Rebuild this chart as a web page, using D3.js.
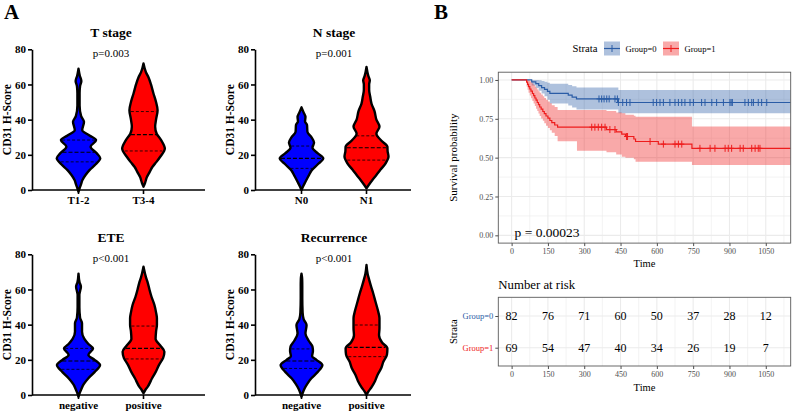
<!DOCTYPE html>
<html><head><meta charset="utf-8">
<script src="https://cdn.jsdelivr.net/npm/d3@7"></script>
<style>body{margin:0;background:#fff} svg{display:block}</style>
</head><body><svg id="c" width="794" height="416"></svg>
<script>
// ---------------- DATA ----------------
const violinTitles = ["T stage", "N stage", "ETE", "Recurrence"];
const violinPvals = ["p=0.003", "p=0.001", "p<0.001", "p<0.001"];
const violinCats = [["T1-2", "T3-4"], ["N0", "N1"], ["negative", "positive"], ["negative", "positive"]];
const scoreTicks = [0, 20, 40, 60, 80];
// density profiles: [CD31 H-score, relative half width]
const tLowDens = [[-1,0],[1,.05],[3,.11],[5.7,.18],[8.5,.32],[11.3,.5],[14.5,.77],[18,.99],[21,.82],[24.6,.55],[28.4,.8],[31,.5],[34,.17],[38.8,.25],[42,.12],[48,.05],[55,.05],[59,.07],[62,.13],[65,.06],[69,0]];
const tHighDens = [[1.9,0],[4,.07],[7.5,.16],[10,.27],[13.2,.41],[16,.59],[18.9,.76],[23.6,.97],[28.4,.8],[32,.6],[36,.53],[40,.57],[45.4,.64],[50,.57],[55,.45],[60,.34],[64,.23],[67,.11],[72,0]];
const nLowDens = [[0,0],[2,.07],[4.7,.18],[8,.32],[11,.45],[14.5,.73],[18,.99],[21,.73],[24,.5],[27,.57],[30,.45],[33,.27],[37,.25],[39,.16],[41.5,.18],[44,.1],[47,0]];
const nHighDens = [[1,0],[3,.11],[5.7,.27],[8.5,.45],[11.6,.64],[15,.86],[19,1],[22,.96],[24.6,.95],[28,.68],[32,.45],[36,.59],[40,.45],[45,.36],[49,.23],[53,.17],[57,.12],[60,.12],[62.4,.15],[65,.08],[70,0]];
const eteNegDens = [[-1,0],[1,.05],[2.8,.11],[6,.23],[9.5,.45],[13,.73],[17,.98],[20,.73],[22.7,.45],[26.5,.66],[29,.45],[32,.26],[36,.16],[40.7,.16],[44,.07],[50,.04],[57,.04],[59,.07],[61.6,.11],[64,.05],[69,0]];
const etePosDens = [[1,0],[3,.09],[4.5,.18],[9.5,.39],[13,.55],[17,.7],[21,.89],[24.6,.95],[28,.77],[31.8,.55],[36,.57],[40,.61],[43.6,.61],[47,.57],[51,.5],[56,.36],[60,.27],[63.5,.2],[67,.11],[73,0]];
const recNegDens = [[-1,0],[1,.05],[3.7,.14],[6.5,.27],[9.5,.45],[13,.73],[17,.95],[20,.68],[22,.48],[25,.52],[27.5,.5],[31,.32],[35,.18],[39.8,.23],[43,.1],[47,.05],[55,.035],[62,.035],[66,.03],[69,0]];
const recPosDens = [[0,0],[2,.09],[4.5,.23],[8,.39],[11.4,.5],[15,.66],[19,.77],[23,.93],[26.5,.95],[30,.7],[34,.57],[38,.59],[43.6,.59],[48,.52],[53,.41],[58,.3],[62,.2],[66,.11],[69,.05],[73.9,0]];
const violinDens = [[tLowDens, tHighDens], [nLowDens, nHighDens], [eteNegDens, etePosDens], [recNegDens, recPosDens]];
// quartiles [Q1, median, Q3]
const violinQuart = [[[16, 21.5, 28.4], [22.2, 31.5, 44.6]], [[12.3, 18, 25], [17, 24, 30.8]],
                     [[14.6, 19.3, 26.5], [20.5, 26.5, 39.2]], [[15.1, 19.3, 26.2], [21.8, 27.1, 39.8]]];

// Kaplan-Meier
const strata = ["Group=0", "Group=1"];
const timeTicks = [0, 150, 300, 450, 600, 750, 900, 1050];
const survTicks = [0, 0.25, 0.5, 0.75, 1];
const followUpEnd = 1153;
const blueT  = [0, 83, 100, 112, 124, 136, 148, 158, 234, 250, 268, 441];
const blueS  = [1, .988, .976, .963, .951, .939, .927, .914, .902, .890, .878, .855];
const blueHi = [1, 1, 1, .998, .993, .988, .982, .975, .968, .960, .952, .935];
const blueLo = [1, .965, .948, .930, .913, .896, .872, .848, .836, .823, .810, .785];
const blueCens = [361, 372, 382, 393, 403, 427, 437, 441, 459, 475, 489, 585, 599, 613, 627, 654, 675, 689, 703, 716, 737, 751, 785, 799, 827, 847, 875, 902, 907, 912, 964, 978, 992, 999, 1019, 1033, 1054];
const redT  = [0, 62, 66, 70, 75, 80, 86, 91, 96, 101, 106, 111, 116, 122, 129, 135, 142, 150, 158, 166, 178, 190, 270, 392, 432, 455, 470, 505, 512, 606, 745];
const redS  = [1, .986, .971, .957, .942, .928, .913, .899, .884, .870, .855, .841, .826, .812, .797, .783, .768, .754, .739, .725, .710, .696, .696, .681, .666, .651, .636, .620, .604, .587, .560];
const redHi = [1, 1, 1, .998, .992, .985, .976, .967, .958, .948, .938, .928, .917, .906, .895, .884, .872, .861, .850, .838, .826, .807, .807, .800, .790, .786, .776, .770, .764, .764, .700];
const redLo = [1, .958, .937, .918, .900, .882, .865, .848, .832, .815, .800, .784, .768, .752, .737, .722, .706, .691, .676, .661, .640, .605, .545, .535, .520, .505, .500, .490, .474, .474, .453];
const redCens = [331, 344, 358, 372, 386, 406, 427, 475, 479, 572, 627, 675, 689, 703, 778, 820, 840, 882, 895, 909, 944, 957, 992, 1006, 1019, 1026];
const riskG0 = [82, 76, 71, 60, 50, 37, 28, 12];
const riskG1 = [69, 54, 47, 40, 34, 26, 19, 7];
const pValueKM = "p = 0.00023";

// ---------------- STYLE ----------------
const serif = "'Liberation Serif','Times New Roman',serif";
const vBlue = "#0000FF", vRed = "#FF0000";
const kmBlue = "#2A5CA6", kmRed = "#EE1C1C";
const svg = d3.select("#c");
svg.append("rect").attr("width", 794).attr("height", 416).attr("fill", "#fff");

// ---------------- PANEL A ----------------
svg.append("text").attr("x", 4).attr("y", 19).attr("font-family", serif).attr("font-weight", "bold")
  .attr("font-size", 21).text("A");

const panelPos = [
  {ax: 32, top: 49.3, bottom: 190, xEnd: 205},
  {ax: 255, top: 49.3, bottom: 190, xEnd: 411},
  {ax: 32, top: 254.3, bottom: 395, xEnd: 205},
  {ax: 255, top: 254.3, bottom: 395, xEnd: 411}
];

violinTitles.forEach((title, i) => {
  const P = panelPos[i];
  const g = svg.append("g");
  const y = d3.scaleLinear().domain([0, 80]).range([P.bottom, P.top]);
  const x = d3.scalePoint().domain(violinCats[i]).range([P.ax + 46.5, P.ax + 111.5]);
  const w = d3.scaleLinear().domain([0, 1]).range([0, 22]);
  const fills = [vBlue, vRed];

  violinCats[i].forEach((cat, j) => {
    const dens = violinDens[i][j];
    const cx = x(cat);
    const area = d3.area().curve(d3.curveMonotoneY)
      .y(d => y(d[0])).x0(d => cx - w(d[1])).x1(d => cx + w(d[1]));
    g.append("path").attr("d", area(dens)).attr("fill", fills[j])
      .attr("stroke", "#000").attr("stroke-width", 2.4).attr("stroke-linejoin", "round");
    const hw = d3.scaleLinear().domain(dens.map(d => d[0])).range(dens.map(d => d[1]));
    violinQuart[i][j].forEach((q, k) => {
      const half = w(hw(q)) - 1.2;
      g.append("line").attr("x1", cx - half).attr("x2", cx + half)
        .attr("y1", y(q)).attr("y2", y(q))
        .attr("stroke", "#000").attr("stroke-width", k === 1 ? 1.1 : 0.8)
        .attr("stroke-dasharray", k === 1 ? "4,2" : "3,2");
    });
  });

  // y axis
  const ya = g.append("g").attr("transform", `translate(${P.ax},0)`)
    .call(d3.axisLeft(y).tickValues(scoreTicks).tickSize(4).tickSizeOuter(0));
  ya.select(".domain").attr("stroke-width", 1.6);
  ya.selectAll(".tick line").attr("stroke-width", 1.6);
  ya.selectAll(".tick text").attr("font-family", serif).attr("font-weight", "bold")
    .attr("font-size", 11).attr("x", -6).attr("fill", "#000");
  // x axis
  g.append("line").attr("x1", P.ax).attr("x2", P.xEnd).attr("y1", P.bottom).attr("y2", P.bottom)
    .attr("stroke", "#000").attr("stroke-width", 1.6);
  violinCats[i].forEach(cat => {
    g.append("line").attr("x1", x(cat)).attr("x2", x(cat)).attr("y1", P.bottom).attr("y2", P.bottom + 4)
      .attr("stroke", "#000").attr("stroke-width", 1.6);
    g.append("text").attr("x", x(cat)).attr("y", P.bottom + 14).attr("text-anchor", "middle")
      .attr("font-family", serif).attr("font-weight", "bold").attr("font-size", 11).text(cat);
  });
  const mid = (x(violinCats[i][0]) + x(violinCats[i][1])) / 2;
  g.append("text").attr("x", mid).attr("y", P.top - 12.5).attr("text-anchor", "middle")
    .attr("font-family", serif).attr("font-weight", "bold").attr("font-size", 13.5).text(title);
  g.append("text").attr("x", mid).attr("y", P.top + 7.5).attr("text-anchor", "middle")
    .attr("font-family", serif).attr("font-size", 11).text(violinPvals[i]);
  g.append("text").attr("transform", `translate(${P.ax - 25},${(P.top + P.bottom) / 2}) rotate(-90)`)
    .attr("text-anchor", "middle").attr("dy", "0.35em")
    .attr("font-family", serif).attr("font-weight", "bold").attr("font-size", 11.5).text("CD31 H-Score");
});

// ---------------- PANEL B ----------------
svg.append("text").attr("x", 434).attr("y", 19).attr("font-family", serif).attr("font-weight", "bold")
  .attr("font-size", 21).text("B");

const kx = d3.scaleLinear().domain([-55, followUpEnd]).range([498.3, 790.7]);
const ky = d3.scaleLinear().domain([-0.05, 1.05]).range([243.1, 72.2]);
const gridCol = "#EBEBEB", borderCol = "#5a5a5a", tickCol = "#4D4D4D";
const minorT = timeTicks.map(t => t + 75).filter(t => t < followUpEnd);
const minorS = survTicks.slice(0, -1).map(s => s + 0.125);

const kg = svg.append("g");
kg.append("defs").append("clipPath").attr("id", "kmclip").append("rect")
  .attr("x", kx.range()[0]).attr("y", ky.range()[1]).attr("width", kx.range()[1] - kx.range()[0])
  .attr("height", ky.range()[0] - ky.range()[1]);
// grid
minorT.forEach(t => kg.append("line").attr("x1", kx(t)).attr("x2", kx(t)).attr("y1", ky.range()[0]).attr("y2", ky.range()[1]).attr("stroke", gridCol).attr("stroke-width", 0.6));
minorS.forEach(s => kg.append("line").attr("x1", kx.range()[0]).attr("x2", kx.range()[1]).attr("y1", ky(s)).attr("y2", ky(s)).attr("stroke", gridCol).attr("stroke-width", 0.6));
timeTicks.forEach(t => kg.append("line").attr("x1", kx(t)).attr("x2", kx(t)).attr("y1", ky.range()[0]).attr("y2", ky.range()[1]).attr("stroke", gridCol).attr("stroke-width", 1.1));
survTicks.forEach(s => kg.append("line").attr("x1", kx.range()[0]).attr("x2", kx.range()[1]).attr("y1", ky(s)).attr("y2", ky(s)).attr("stroke", gridCol).attr("stroke-width", 1.1));

const curves = [
  {T: blueT, S: blueS, Hi: blueHi, Lo: blueLo, C: blueCens, col: kmBlue},
  {T: redT, S: redS, Hi: redHi, Lo: redLo, C: redCens, col: kmRed}
];
const plot = kg.append("g").attr("clip-path", "url(#kmclip)");
curves.forEach(c => {
  const pts = c.T.map((t, i) => ({t, s: c.S[i], hi: c.Hi[i], lo: c.Lo[i]}));
  pts.push({t: followUpEnd, s: c.S[c.S.length - 1], hi: c.Hi[c.Hi.length - 1], lo: c.Lo[c.Lo.length - 1]});
  c.pts = pts;
  plot.append("path").attr("d", d3.area().curve(d3.curveStepAfter).x(d => kx(d.t)).y0(d => ky(d.lo)).y1(d => ky(d.hi))(pts))
    .attr("fill", c.col).attr("fill-opacity", 0.38);
});
curves.forEach(c => {
  plot.append("path").attr("d", d3.line().curve(d3.curveStepAfter).x(d => kx(d.t)).y(d => ky(d.s))(c.pts))
    .attr("fill", "none").attr("stroke", c.col).attr("stroke-width", 1.2);
  c.C.forEach(t => {
    const s = c.S[d3.bisectRight(c.T, t) - 1];
    const px = kx(t), py = ky(s);
    plot.append("path").attr("d", `M${px},${py - 3.5}V${py + 3.5}M${px - 2.5},${py}H${px + 2.5}`)
      .attr("stroke", c.col).attr("stroke-width", 1);
  });
});
// border
kg.append("rect").attr("x", kx.range()[0]).attr("y", ky.range()[1]).attr("width", kx.range()[1] - kx.range()[0])
  .attr("height", ky.range()[0] - ky.range()[1]).attr("fill", "none").attr("stroke", borderCol).attr("stroke-width", 0.9);
// axes
const kxa = kg.append("g").attr("transform", `translate(0,${ky.range()[0]})`)
  .call(d3.axisBottom(kx).tickValues(timeTicks).tickSize(3).tickSizeOuter(0).tickFormat(d3.format("d")));
kxa.select(".domain").remove();
kxa.selectAll(".tick line").attr("stroke", tickCol);
kxa.selectAll(".tick text").attr("font-family", serif).attr("font-size", 8).attr("fill", tickCol).attr("y", 5);
const kya = kg.append("g").attr("transform", `translate(${kx.range()[0]},0)`)
  .call(d3.axisLeft(ky).tickValues(survTicks).tickSize(3).tickSizeOuter(0).tickFormat(d3.format(".2f")));
kya.select(".domain").remove();
kya.selectAll(".tick line").attr("stroke", tickCol);
kya.selectAll(".tick text").attr("font-family", serif).attr("font-size", 8).attr("fill", tickCol).attr("x", -5);
kg.append("text").attr("x", (kx.range()[0] + kx.range()[1]) / 2).attr("y", 267).attr("text-anchor", "middle")
  .attr("font-family", serif).attr("font-size", 10.5).text("Time");
kg.append("text").attr("transform", `translate(453,${(ky.range()[0] + ky.range()[1]) / 2}) rotate(-90)`)
  .attr("text-anchor", "middle").attr("dy", "0.35em").attr("font-family", serif).attr("font-size", 11).text("Survival probability");
kg.append("text").attr("x", kx(0) + 3).attr("y", 237).attr("font-family", serif).attr("font-size", 13.5).text(pValueKM);

// legend
const lg = svg.append("g");
lg.append("text").attr("x", 572.5).attr("y", 51.5).attr("font-family", serif).attr("font-size", 10.7).text("Strata");
const keyX = [604, 663];
strata.forEach((s, i) => {
  const c = curves[i];
  lg.append("rect").attr("x", keyX[i]).attr("y", 41.5).attr("width", 16).attr("height", 14)
    .attr("fill", c.col).attr("fill-opacity", 0.38);
  lg.append("line").attr("x1", keyX[i]).attr("x2", keyX[i] + 16).attr("y1", 48.5).attr("y2", 48.5)
    .attr("stroke", c.col).attr("stroke-width", 1.2);
  lg.append("path").attr("d", `M${keyX[i] + 8},${45}V${52}M${keyX[i] + 5.5},48.5H${keyX[i] + 10.5}`)
    .attr("stroke", c.col).attr("stroke-width", 1);
  lg.append("text").attr("x", keyX[i] + 21.5).attr("y", 51.5).attr("font-family", serif).attr("font-size", 8.6).text(s);
});

// ---------------- RISK TABLE ----------------
const rg = svg.append("g");
const ry = d3.scalePoint().domain(strata).range([316, 347.7]);
const rTop = 297.3, rBot = 366;
rg.append("text").attr("x", 498.3).attr("y", 288.5).attr("font-family", serif).attr("font-size", 12.8).text("Number at risk");
minorT.forEach(t => rg.append("line").attr("x1", kx(t)).attr("x2", kx(t)).attr("y1", rTop).attr("y2", rBot).attr("stroke", gridCol).attr("stroke-width", 0.6));
timeTicks.forEach(t => rg.append("line").attr("x1", kx(t)).attr("x2", kx(t)).attr("y1", rTop).attr("y2", rBot).attr("stroke", gridCol).attr("stroke-width", 1.1));
strata.forEach(s => rg.append("line").attr("x1", kx.range()[0]).attr("x2", kx.range()[1]).attr("y1", ry(s)).attr("y2", ry(s)).attr("stroke", gridCol).attr("stroke-width", 1.1));
rg.append("rect").attr("x", kx.range()[0]).attr("y", rTop).attr("width", kx.range()[1] - kx.range()[0])
  .attr("height", rBot - rTop).attr("fill", "none").attr("stroke", borderCol).attr("stroke-width", 0.9);
[riskG0, riskG1].forEach((row, i) => {
  row.forEach((n, k) => {
    rg.append("text").attr("x", kx(timeTicks[k])).attr("y", ry(strata[i])).attr("dy", "0.35em")
      .attr("text-anchor", "middle").attr("font-family", serif).attr("font-size", 12).text(n);
  });
});
const rya = rg.append("g").attr("transform", `translate(${kx.range()[0]},0)`)
  .call(d3.axisLeft(ry).tickSize(3).tickSizeOuter(0));
rya.select(".domain").remove();
rya.selectAll(".tick line").attr("stroke", tickCol);
rya.selectAll(".tick text").attr("font-family", serif).attr("font-size", 8.5).attr("x", -5)
  .attr("fill", (d, i) => curves[i].col);
const rxa = rg.append("g").attr("transform", `translate(0,${rBot})`)
  .call(d3.axisBottom(kx).tickValues(timeTicks).tickSize(3).tickSizeOuter(0).tickFormat(d3.format("d")));
rxa.select(".domain").remove();
rxa.selectAll(".tick line").attr("stroke", tickCol);
rxa.selectAll(".tick text").attr("font-family", serif).attr("font-size", 8).attr("fill", tickCol).attr("y", 5);
rg.append("text").attr("x", (kx.range()[0] + kx.range()[1]) / 2).attr("y", 390.5).attr("text-anchor", "middle")
  .attr("font-family", serif).attr("font-size", 10.5).text("Time");
rg.append("text").attr("transform", `translate(453,${(rTop + rBot) / 2}) rotate(-90)`)
  .attr("text-anchor", "middle").attr("dy", "0.35em").attr("font-family", serif).attr("font-size", 10.7).text("Strata");
</script></body></html>
